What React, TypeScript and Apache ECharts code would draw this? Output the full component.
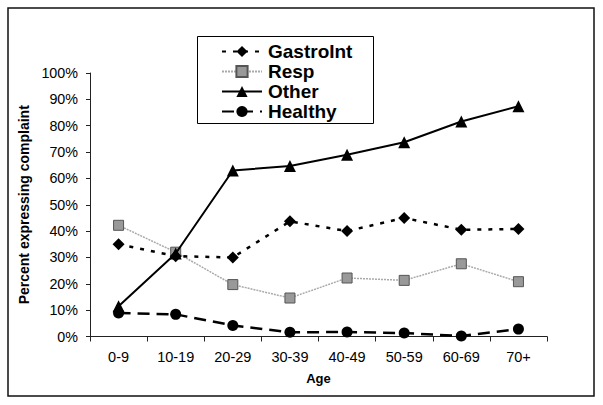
import React, { useEffect, useRef } from "react";
import * as echarts from "echarts";

const categories = ["0-9", "10-19", "20-29", "30-39", "40-49", "50-59", "60-69", "70+"];
const gastroInt = [35, 30.5, 30, 43.7, 40, 45, 40.5, 40.8];
const resp = [42.2, 32, 19.7, 14.6, 22.2, 21.3, 27.6, 20.8];
const other = [11.5, 31.5, 63, 64.7, 69, 73.7, 81.6, 87.4];
const healthy = [8.9, 8.4, 4.2, 1.6, 1.7, 1.3, 0.2, 2.8];
const seriesNames = ["GastroInt", "Resp", "Other", "Healthy"];

const FONT = "Arial, 'Liberation Sans', sans-serif";

export default function App() {
  const ref = useRef<HTMLDivElement>(null);
  useEffect(() => {
    if (!ref.current) return;
    const chart = echarts.init(ref.current, null, { renderer: "svg" });
    chart.setOption({
      animation: false,
      backgroundColor: "#fff",
      grid: { left: 90, right: 56, top: 73, bottom: 68.5 },
      graphic: [
        {
          type: "rect",
          shape: { x: 8, y: 8, width: 586, height: 388 },
          style: { fill: "none", stroke: "#111", lineWidth: 1.5 },
          z: 0,
        },
        {
          type: "rect",
          shape: { x: 197.5, y: 36.5, width: 176, height: 87 },
          style: { fill: "#fff", stroke: "#000", lineWidth: 1 },
          z: 5,
        },
      ],
      legend: {
        orient: "vertical",
        left: 221,
        top: 42,
        data: seriesNames,
        itemWidth: 40,
        itemHeight: 14,
        itemGap: 1,
        padding: 0,
        borderWidth: 0,
        z: 10,
        textStyle: {
          fontFamily: FONT,
          fontSize: 19,
          lineHeight: 19,
          fontWeight: "bold",
          color: "#000",
          padding: [0, 0, 0, 1],
        },
      },
      xAxis: {
        type: "category",
        data: categories,
        boundaryGap: true,
        name: "Age",
        nameLocation: "middle",
        nameGap: 35,
        nameTextStyle: { fontFamily: FONT, fontSize: 13, fontWeight: "bold", color: "#000" },
        axisLine: { lineStyle: { color: "#222", width: 1 } },
        axisTick: { show: true, length: 5, lineStyle: { color: "#222" } },
        axisLabel: { fontFamily: FONT, fontSize: 14.5, color: "#000", margin: 13 },
        splitLine: { show: false },
      },
      yAxis: {
        type: "value",
        min: 0,
        max: 100,
        interval: 10,
        name: "Percent expressing complaint",
        nameLocation: "middle",
        nameGap: 55,
        nameTextStyle: { fontFamily: FONT, fontSize: 14, fontWeight: "bold", color: "#000" },
        axisLine: { show: true, lineStyle: { color: "#222", width: 1 } },
        axisTick: { show: true, length: 4, lineStyle: { color: "#222" } },
        axisLabel: { fontFamily: FONT, fontSize: 14.3, color: "#000", margin: 12, formatter: "{value}%" },
        splitLine: { show: false },
      },
      series: [
        {
          name: "GastroInt",
          type: "line",
          data: gastroInt,
          symbol: "diamond",
          symbolSize: 12,
          itemStyle: { color: "#000" },
          lineStyle: { color: "#000", width: 2.5, type: [4, 7] },
          z: 3,
        },
        {
          name: "Resp",
          type: "line",
          data: resp,
          symbol: "rect",
          symbolSize: 10,
          itemStyle: { color: "#999", borderColor: "#555", borderWidth: 1 },
          lineStyle: { color: "#aaa", width: 1.5, type: [2, 1] },
          z: 2,
        },
        {
          name: "Other",
          type: "line",
          data: other,
          symbol: "triangle",
          symbolSize: 12,
          itemStyle: { color: "#000" },
          lineStyle: { color: "#000", width: 2 },
          z: 4,
        },
        {
          name: "Healthy",
          type: "line",
          data: healthy,
          symbol: "circle",
          symbolSize: 11,
          itemStyle: { color: "#000" },
          lineStyle: { color: "#000", width: 2.5, type: [12, 7] },
          z: 5,
        },
      ],
    });
    return () => chart.dispose();
  }, []);
  return (
    <div
      ref={ref}
      style={{ position: "absolute", left: 0, top: 0, width: 603, height: 405 }}
    />
  );
}
